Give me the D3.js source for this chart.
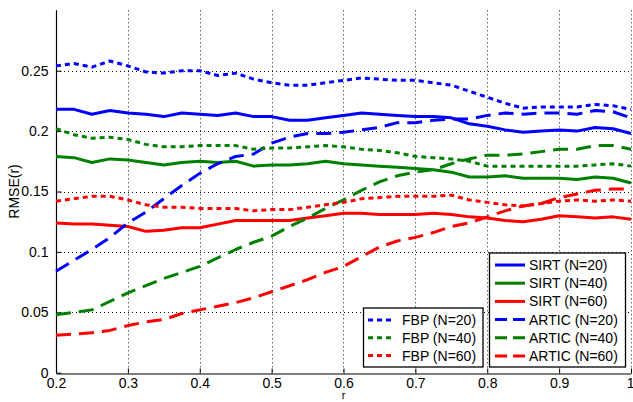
<!DOCTYPE html>
<html><head><meta charset="utf-8">
<script src="https://cdn.jsdelivr.net/npm/d3@7"></script>
<style>
html,body{margin:0;padding:0;background:#fff;}
svg{display:block;font-family:"Liberation Sans",Arial,Helvetica,sans-serif;}
</style></head>
<body><svg id="c" width="633" height="402"></svg>
<script>
const rValues = [0.2,0.225,0.25,0.275,0.3,0.325,0.35,0.375,0.4,0.425,0.45,0.475,0.5,0.525,0.55,0.575,0.6,0.625,0.65,0.675,0.7,0.725,0.75,0.775,0.8,0.825,0.85,0.875,0.9,0.925,0.95,0.975,1.0];
const sirt20 = [0.218,0.218,0.214,0.217,0.215,0.214,0.212,0.215,0.214,0.213,0.215,0.212,0.212,0.209,0.209,0.211,0.213,0.215,0.214,0.213,0.212,0.212,0.211,0.206,0.204,0.201,0.199,0.200,0.201,0.200,0.203,0.202,0.198];
const sirt40 = [0.179,0.178,0.174,0.177,0.176,0.174,0.172,0.174,0.175,0.174,0.175,0.171,0.172,0.172,0.173,0.175,0.173,0.172,0.171,0.170,0.169,0.168,0.166,0.162,0.162,0.163,0.161,0.161,0.161,0.160,0.162,0.161,0.157];
const sirt60 = [0.124,0.123,0.123,0.122,0.121,0.117,0.118,0.120,0.120,0.123,0.126,0.126,0.126,0.126,0.128,0.130,0.132,0.132,0.131,0.131,0.131,0.132,0.131,0.129,0.128,0.126,0.125,0.127,0.130,0.129,0.128,0.129,0.127];
const artic20 = [0.084,0.093,0.102,0.112,0.124,0.133,0.144,0.155,0.165,0.173,0.179,0.181,0.190,0.195,0.198,0.198,0.199,0.201,0.203,0.207,0.207,0.209,0.210,0.210,0.213,0.215,0.214,0.215,0.215,0.214,0.217,0.216,0.211];
const artic40 = [0.048,0.050,0.052,0.059,0.066,0.072,0.078,0.083,0.088,0.095,0.102,0.108,0.113,0.121,0.128,0.136,0.143,0.151,0.158,0.163,0.166,0.168,0.173,0.177,0.180,0.180,0.181,0.183,0.185,0.185,0.188,0.188,0.185];
const artic60 = [0.031,0.032,0.033,0.035,0.039,0.042,0.044,0.049,0.052,0.055,0.058,0.062,0.067,0.072,0.077,0.083,0.088,0.096,0.104,0.109,0.112,0.116,0.121,0.124,0.129,0.134,0.138,0.140,0.145,0.148,0.151,0.152,0.152];
const fbp20 = [0.254,0.256,0.253,0.258,0.254,0.249,0.248,0.250,0.250,0.246,0.248,0.243,0.240,0.238,0.238,0.240,0.242,0.244,0.243,0.242,0.242,0.240,0.238,0.233,0.228,0.223,0.219,0.220,0.220,0.220,0.222,0.221,0.218];
const fbp40 = [0.202,0.197,0.194,0.195,0.193,0.189,0.187,0.187,0.188,0.188,0.188,0.185,0.186,0.186,0.187,0.188,0.187,0.185,0.184,0.182,0.179,0.178,0.177,0.175,0.171,0.171,0.171,0.171,0.171,0.171,0.172,0.173,0.171];
const fbp60 = [0.142,0.144,0.146,0.146,0.143,0.139,0.137,0.137,0.136,0.136,0.136,0.134,0.135,0.135,0.137,0.139,0.141,0.144,0.145,0.146,0.146,0.146,0.147,0.143,0.141,0.139,0.138,0.140,0.142,0.143,0.142,0.143,0.142];
const xTicks = [0.2,0.3,0.4,0.5,0.6,0.7,0.8,0.9,1];
const xTickLabels = ["0.2","0.3","0.4","0.5","0.6","0.7","0.8","0.9","1"];
const yTicks = [0,0.05,0.1,0.15,0.2,0.25];
const yTickLabels = ["0","0.05","0.1","0.15","0.2","0.25"];
const seriesNames = ["SIRT (N=20)","SIRT (N=40)","SIRT (N=60)","ARTIC (N=20)","ARTIC (N=40)","ARTIC (N=60)","FBP (N=20)","FBP (N=40)","FBP (N=60)"];

const BLUE="#0000ff", GREEN="#008000", RED="#ff0000";
const SOLID=null, DASH="15,8", DOT="5,4";
const series = [
  {name:seriesNames[0], v:sirt20, c:BLUE, d:SOLID, leg:1},
  {name:seriesNames[1], v:sirt40, c:GREEN, d:SOLID, leg:1},
  {name:seriesNames[2], v:sirt60, c:RED, d:SOLID, leg:1},
  {name:seriesNames[3], v:artic20, c:BLUE, d:DASH, leg:1},
  {name:seriesNames[4], v:artic40, c:GREEN, d:DASH, leg:1},
  {name:seriesNames[5], v:artic60, c:RED, d:DASH, leg:1},
  {name:seriesNames[6], v:fbp20, c:BLUE, d:DOT, leg:2},
  {name:seriesNames[7], v:fbp40, c:GREEN, d:DOT, leg:2},
  {name:seriesNames[8], v:fbp60, c:RED, d:DOT, leg:2}
];

const svg = d3.select("#c");
const L=56, R=631, T=10.3, B=372.7;
const x = d3.scaleLinear().domain([0.2,1]).range([L,R]);
const y = d3.scaleLinear().domain([0,0.3]).range([B,T]);

// grid
const grid = svg.append("g").attr("stroke","#111").attr("stroke-width",1).attr("stroke-dasharray","1,3").attr("fill","none");
xTicks.slice(1).forEach(t=>{
  grid.append("line").attr("x1",Math.round(x(t))+0.5).attr("x2",Math.round(x(t))+0.5).attr("y1",T).attr("y2",B);
});
yTicks.slice(1).forEach(t=>{
  grid.append("line").attr("x1",L).attr("x2",R).attr("y1",Math.round(y(t))+0.5).attr("y2",Math.round(y(t))+0.5);
});

// axes
const xAxis = d3.axisBottom(x).tickValues(xTicks).tickFormat((d,i)=>xTickLabels[i]).tickSizeInner(-5).tickSizeOuter(0).tickPadding(5);
const yAxis = d3.axisLeft(y).tickValues(yTicks).tickFormat((d,i)=>yTickLabels[i]).tickSizeInner(-5).tickSizeOuter(0).tickPadding(8);
const gx = svg.append("g").attr("transform",`translate(0,${Math.round(B)+0.5})`).call(xAxis);
const gy = svg.append("g").attr("transform",`translate(${L+0.5},0)`).call(yAxis);
[gx,gy].forEach(g=>{
  g.select(".domain").attr("stroke","#000").attr("stroke-width",1.2);
  g.selectAll(".tick line").attr("stroke","#000");
  g.selectAll(".tick text").attr("fill","#000").attr("font-size",14).attr("font-family","Liberation Sans, Arial, sans-serif");
});
gy.select(".domain").attr("d",`M0,${B}V${T}`);
gx.selectAll(".tick text").filter(d=>d===1).attr("text-anchor","end").attr("dx","3");

// lines
const line = d3.line().x((d,i)=>x(rValues[i])).y(d=>y(d));
const plot = svg.append("g");
series.forEach(s=>{
  plot.append("path").datum(s.v).attr("d",line).attr("fill","none")
    .attr("stroke",s.c).attr("stroke-width",3).attr("stroke-linejoin","round")
    .attr("stroke-dasharray",s.d);
});

// labels
svg.append("text").attr("x",(L+R)/2).attr("y",398.5).attr("text-anchor","middle").attr("font-size",11).text("r");
svg.append("text").attr("transform",`translate(19,${(T+B)/2}) rotate(-90)`).attr("text-anchor","middle").attr("font-size",14).text("RMSE(r)");

// legends
function legend(items, bx, by, bw, bh, rowY0, rowStep, lx0, lx1, tx){
  const g = svg.append("g");
  g.append("rect").attr("x",bx+0.5).attr("y",by+0.5).attr("width",bw).attr("height",bh).attr("fill","#fff").attr("stroke","#000").attr("stroke-width",1.3);
  items.forEach((s,i)=>{
    const yy = rowY0 + i*rowStep;
    g.append("line").attr("x1",lx0).attr("x2",lx1).attr("y1",yy).attr("y2",yy)
      .attr("stroke",s.c).attr("stroke-width",3).attr("stroke-dasharray", s.d===DASH ? "12,6" : (s.d===DOT ? "5,4" : null));
    g.append("text").attr("x",tx).attr("y",yy).attr("dy","0.36em").attr("font-size",14).attr("fill","#000").text(s.name);
  });
}
legend(series.filter(s=>s.leg===1), 489, 252.5, 136, 114, 265, 18.2, 495, 525, 529);
legend(series.filter(s=>s.leg===2), 363, 307.5, 119.5, 59, 320, 17.8, 368, 395, 402);
</script></body></html>
